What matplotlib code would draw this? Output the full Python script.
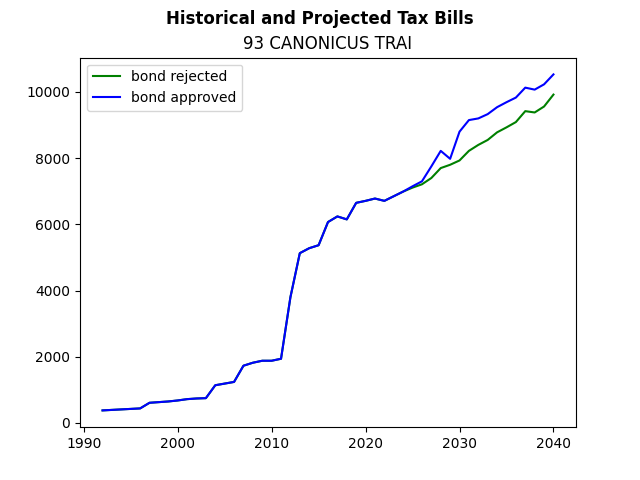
import matplotlib
matplotlib.use("Agg")
import matplotlib.pyplot as plt

# 年と税額
years = list(range(1992, 2041))

history = [380, 395, 410, 425, 440, 610, 630, 650, 680, 720,
           740, 750, 1140, 1190, 1240, 1730, 1820, 1880, 1880, 1940,
           3800, 5130, 5280, 5370, 6070, 6240, 6150, 6650, 6710, 6780,
           6710, 6850, 6990]

rejected_future = [7110, 7210, 7400, 7700, 7800, 7930, 8220, 8400, 8550, 8780,
                   8930, 9090, 9420, 9380, 9560, 9920]
approved_future = [7150, 7300, 7750, 8220, 7980, 8800, 9150, 9200, 9330, 9540,
                   9690, 9830, 10130, 10070, 10230, 10530]

bond_rejected = history + rejected_future
bond_approved = history + approved_future

fig, ax = plt.subplots(figsize=(6.4, 4.8), dpi=100)
ax.plot(years, bond_rejected, color="green", label="bond rejected")
ax.plot(years, bond_approved, color="blue", label="bond approved")
fig.suptitle("Historical and Projected Tax Bills", fontweight="bold")
ax.set_title("93 CANONICUS TRAI")
ax.legend(loc="upper left")
fig.savefig("out.png")
